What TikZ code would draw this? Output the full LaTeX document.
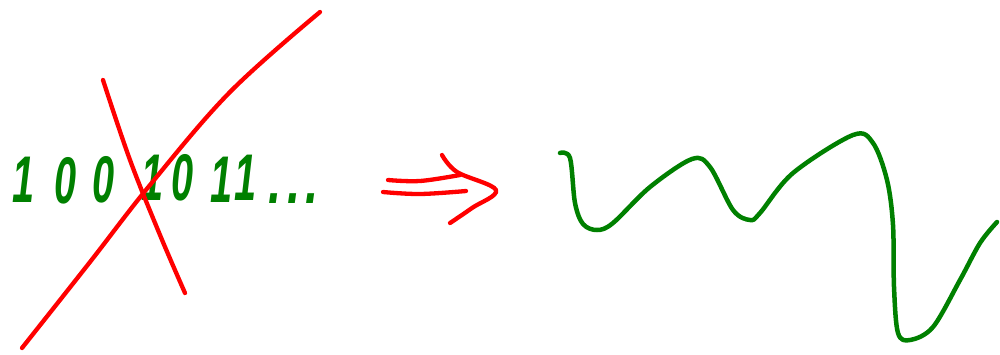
\documentclass[tikz,border=0pt]{standalone}
\usepackage{fontspec}
\setmainfont{Liberation Sans}
\definecolor{pen}{RGB}{0,128,0}
\definecolor{ink}{RGB}{255,0,0}
\begin{document}
\begin{tikzpicture}[x=1pt,y=-1pt,
  greenpen/.style={draw=pen,line width=4.5pt,line cap=round,line join=round},
  redpen/.style={draw=ink,line width=4.3pt,line cap=round,line join=round},
  digit/.style={text=pen,font=\fontsize{66}{66}\selectfont\bfseries\itshape,inner sep=0pt,xscale=0.6}]
\useasboundingbox (0,0) rectangle (1000,354);
% digits
\node[digit] (d1) at (24,180) {1};
\node[digit] (d2) at (66,181) {0};
\node[digit] (d3) at (104,180) {0};
\node[digit] (d4) at (153,178) {1};
\node[digit] (d5) at (183,178) {0};
\node[digit] (d6) at (222,180) {1};
\node[digit] (d7) at (246,178) {1};
\node[digit,anchor=base west,xscale=1.2] (d8) at (268,203) {.\hspace{9pt}.\hspace{6pt}.};
% red cross
\draw[redpen] plot[smooth,tension=0.6] coordinates {(22,348) (90,262) (150,185) (230,92) (320,12)};
\draw[redpen] plot[smooth,tension=0.6] coordinates {(103,80) (130,160) (160,235) (185,293)};
% arrow
\draw[redpen] plot[smooth,tension=0.6] coordinates {(388,180) (420,181) (460,175)};
\draw[redpen] plot[smooth,tension=0.6] coordinates {(383,192) (420,194) (466,191)};
\draw[redpen] plot[smooth,tension=0.6] coordinates {(442,155) (457,172) (496,190) (472,208) (450,223)};
% wave
\draw[greenpen] plot[smooth,tension=0.55] coordinates {(560,153) (570,158) (575,203) (583,224) (597,230) (613,223) (650,187) (692,159) (710,167) (733,210) (750,220) (760,213) (793,173) (853,135) (873,143) (887,180) (893,225) (894,287) (898,333) (910,340) (933,327) (960,280) (980,243) (997,222)};
\end{tikzpicture}
\end{document}
